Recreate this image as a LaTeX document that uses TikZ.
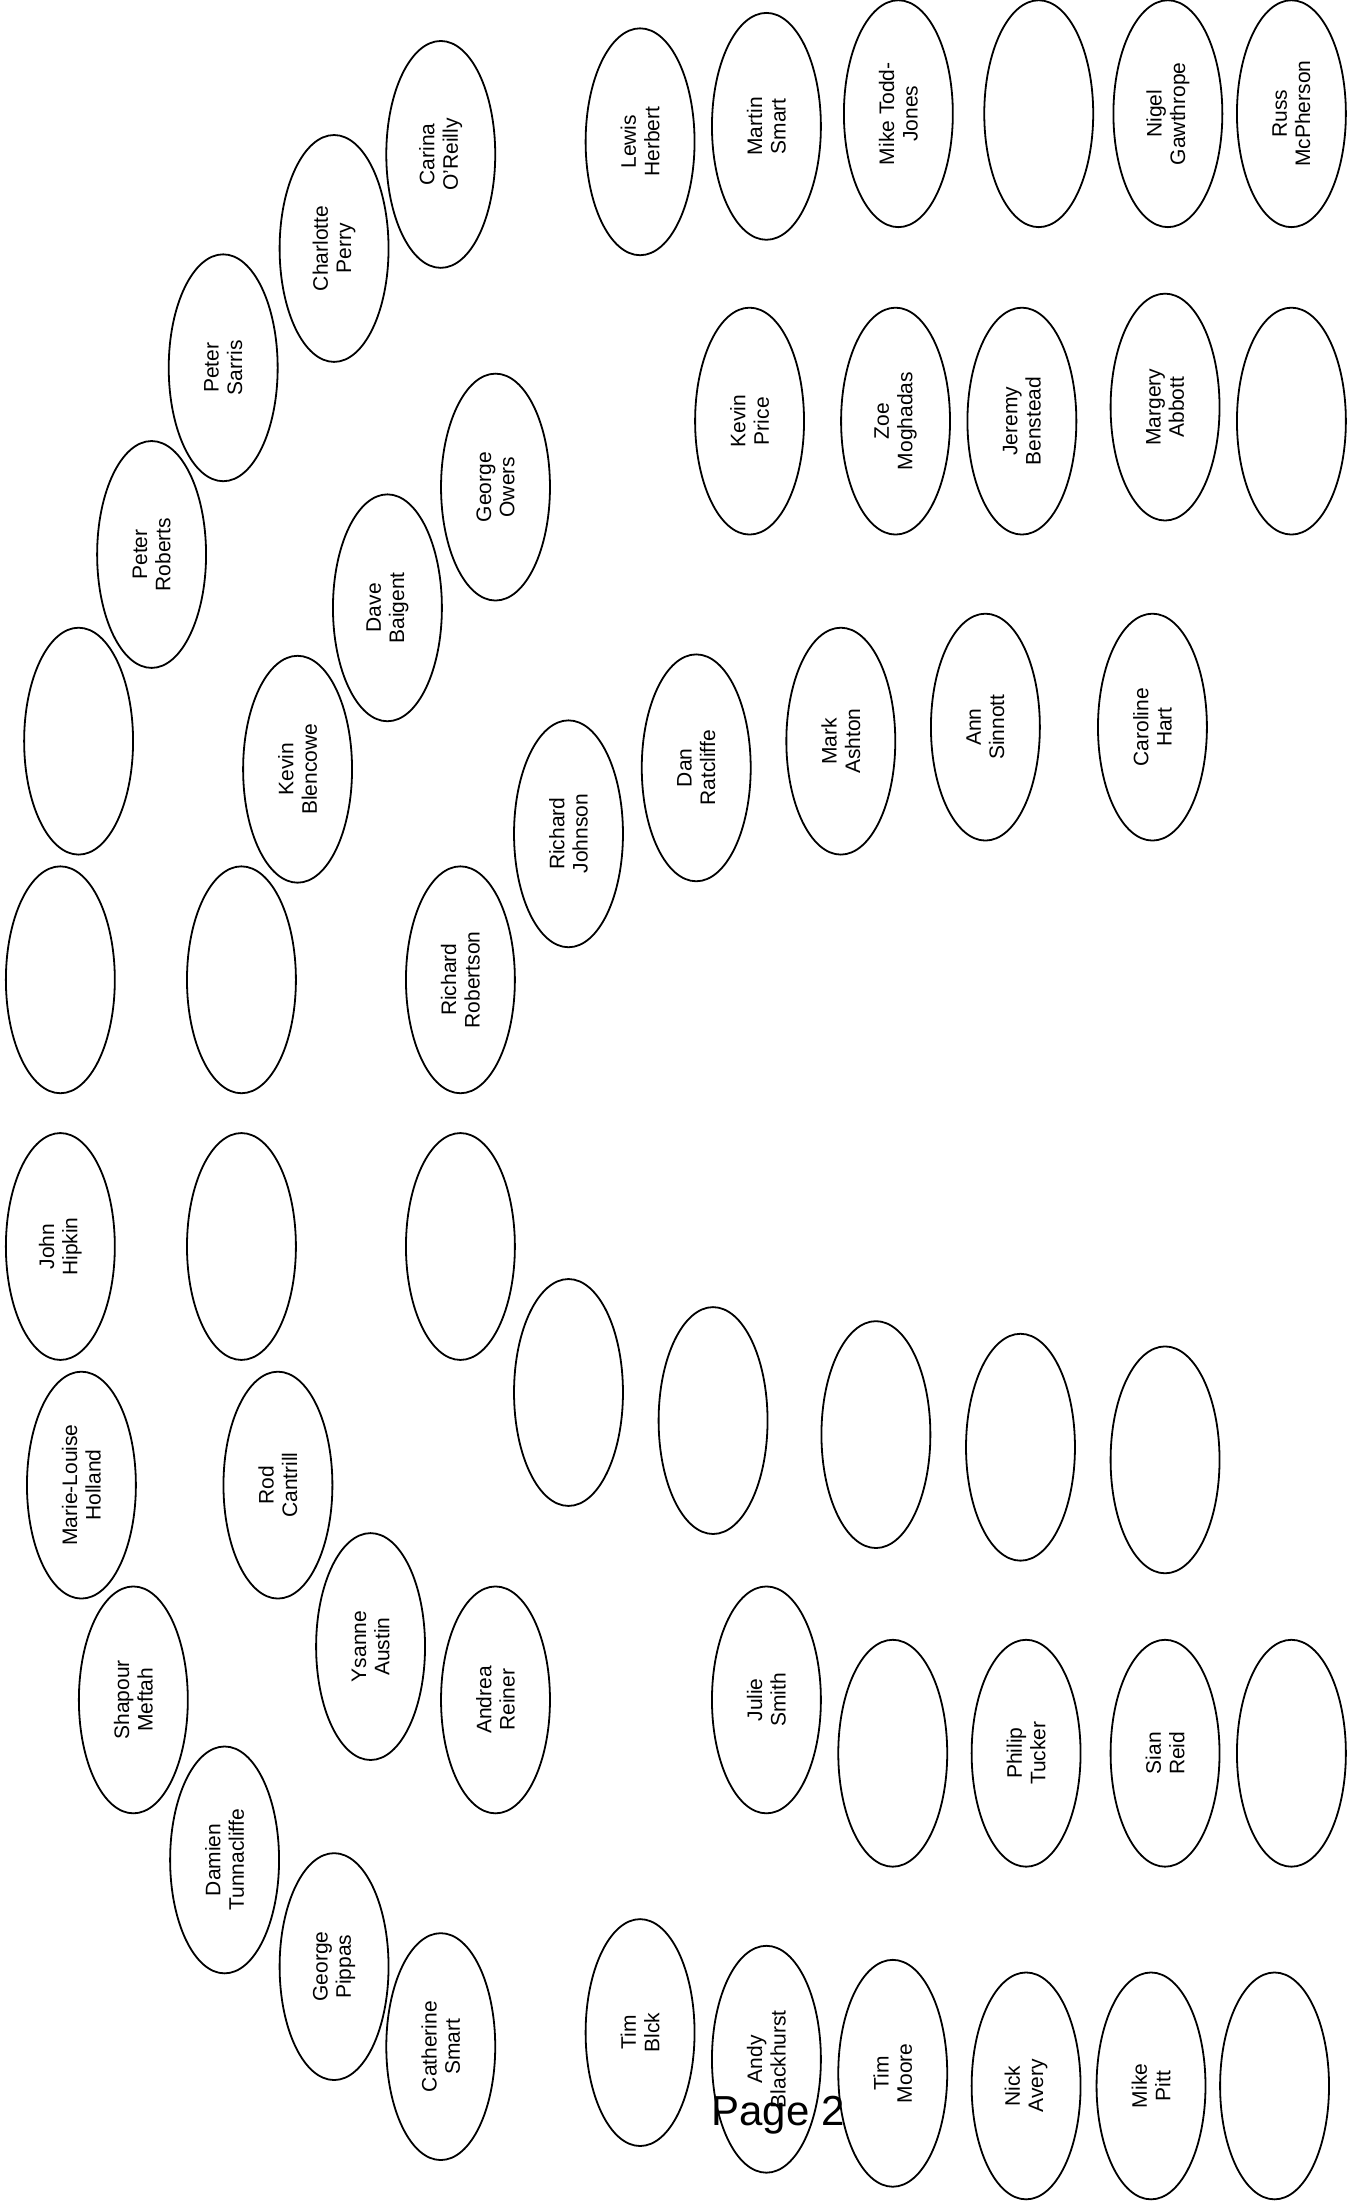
\documentclass[tikz,border=0pt]{standalone}
\usepackage{fontspec}
\setmainfont{Liberation Sans}
\usetikzlibrary{shapes.geometric}

\begin{document}
\begin{tikzpicture}[x=0.7022pt,y=-0.7022pt,
  seat/.style={draw,ellipse,line width=0.9pt,rotate=90,minimum width=113.5pt,
    minimum height=54.5pt,inner sep=0pt,align=center,
    font=\fontsize{10.5}{11.7}\selectfont}]
\useasboundingbox (0,0) rectangle (962,1568);
% outer ring, left
\node[seat] (carina)    at (314,110)  {Carina\\O'Reilly};
\node[seat] (charlotte) at (238,177)  {Charlotte\\Perry};
\node[seat] (psarris)   at (159,262)  {Peter\\Sarris};
\node[seat] (proberts)  at (108,395)  {Peter\\Roberts};
\node[seat] (ea)        at (56,528)   {};
\node[seat] (eb)        at (43,698)   {};
\node[seat] (hipkin)    at (43,888)   {John\\Hipkin};
\node[seat] (holland)   at (58,1058)  {Marie-Louise\\Holland};
\node[seat] (meftah)    at (95,1211)  {Shapour\\Meftah};
\node[seat] (tunna)     at (160,1325) {Damien\\Tunnacliffe};
\node[seat] (pippas)    at (238,1401) {George\\Pippas};
\node[seat] (csmart)    at (314,1458) {Catherine\\Smart};
% inner ring, left
\node[seat] (owers)     at (353,347)  {George\\Owers};
\node[seat] (baigent)   at (276,433)  {Dave\\Baigent};
\node[seat] (blencowe)  at (212,548)  {Kevin\\Blencowe};
\node[seat] (ec)        at (172,698)  {};
\node[seat] (ed)        at (172,888)  {};
\node[seat] (cantrill)  at (198,1058) {Rod\\Cantrill};
\node[seat] (austin)    at (264,1173) {Ysanne\\Austin};
\node[seat] (reiner)    at (353,1211) {Andrea\\Reiner};
% middle
\node[seat] (robertson) at (328,698)  {Richard\\Robertson};
\node[seat] (ee)        at (328,888)  {};
\node[seat] (johnson)   at (405,594)  {Richard\\Johnson};
\node[seat] (ef)        at (405,992)  {};
\node[seat] (ratcliffe) at (496,547)  {Dan\\Ratcliffe};
\node[seat] (ashton)    at (599,528)  {Mark\\Ashton};
\node[seat] (sinnott)   at (702,518)  {Ann\\Sinnott};
\node[seat] (hart)      at (821,518)  {Caroline\\Hart};
\node[seat] (eg)        at (508,1012) {};
\node[seat] (eh)        at (624,1022) {};
\node[seat] (ei)        at (727,1031) {};
\node[seat] (ej)        at (830,1040) {};
% right, top rows
\node[seat] (herbert)   at (456,101)  {Lewis\\Herbert};
\node[seat] (msmart)    at (546,90)   {Martin\\Smart};
\node[seat] (toddjones) at (640,81)   {Mike Todd-\\Jones};
\node[seat] (ek)        at (740,81)   {};
\node[seat] (gawthrope) at (832,81)   {Nigel\\Gawthrope};
\node[seat] (mcpherson) at (920,81)   {Russ\\McPherson};
\node[seat] (price)     at (534,300)  {Kevin\\Price};
\node[seat] (moghadas)  at (638,300)  {Zoe\\Moghadas};
\node[seat] (benstead)  at (728,300)  {Jeremy\\Benstead};
\node[seat] (abbott)    at (830,290)  {Margery\\Abbott};
\node[seat] (el)        at (920,300)  {};
% right, bottom rows
\node[seat] (jsmith)    at (546,1211) {Julie\\Smith};
\node[seat] (em)        at (636,1249) {};
\node[seat] (tucker)    at (731,1249) {Philip\\Tucker};
\node[seat] (reid)      at (830,1249) {Sian\\Reid};
\node[seat] (en)        at (920,1249) {};
\node[seat] (blck)      at (456,1448) {Tim\\Blck};
\node[seat] (blackhurst) at (546,1467) {Andy\\Blackhurst};
\node[seat] (moore)     at (636,1477) {Tim\\Moore};
\node[seat] (avery)     at (731,1486) {Nick\\Avery};
\node[seat] (pitt)      at (820,1486) {Mike\\Pitt};
\node[seat] (eo)        at (908,1486) {};
\node[anchor=base,inner sep=0pt,font=\fontsize{21}{25}\selectfont] (page) at (554.3,1514.5) {Page 2};
\end{tikzpicture}
\end{document}
